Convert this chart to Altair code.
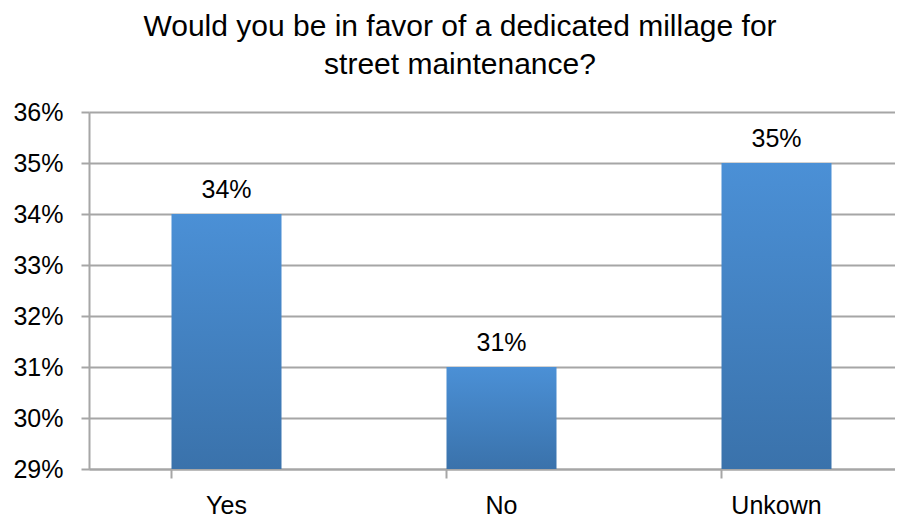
import altair as alt
import pandas as pd

categories = ["Yes", "No", "Unkown"]
values = [0.34, 0.31, 0.35]
labels = ["34%", "31%", "35%"]
base = 0.29
y_ticks = [0.29, 0.30, 0.31, 0.32, 0.33, 0.34, 0.35, 0.36]

df = pd.DataFrame({"cat": categories, "val": values, "lab": labels, "base": [base] * 3})

FONT = "Liberation Sans"
GRAY = "#a6a6a6"

x_scale = alt.Scale(paddingInner=0.6, paddingOuter=0.3, range=[0, 825])

x = alt.X("cat:N", sort=categories, title=None, scale=x_scale,
          axis=alt.Axis(labelAngle=0, labelFontSize=25, labelFont=FONT, labelColor="#000000",
                        labelPadding=15, tickSize=9, tickColor=GRAY, domainColor=GRAY,
                        bandPosition=0, grid=False, tickWidth=2, domainWidth=2))

bars = alt.Chart(df).mark_bar(
    color=alt.Gradient(gradient="linear",
                       stops=[alt.GradientStop(color="#4b90d6", offset=0),
                              alt.GradientStop(color="#3a72ab", offset=1)],
                       x1=0, x2=0, y1=0, y2=1)
).encode(
    x=x,
    y=alt.Y("val:Q", title=None,
            scale=alt.Scale(domain=[0.29, 0.36], zero=False, nice=False),
            axis=alt.Axis(format=".0%", values=y_ticks,
                          labelFontSize=25, labelFont=FONT, labelColor="#000000", labelPadding=18,
                          tickSize=8, tickColor=GRAY, domainColor=GRAY,
                          gridColor=GRAY, gridWidth=2, tickWidth=2, domainWidth=2)),
    y2="base:Q",
)

text = alt.Chart(df).mark_text(fontSize=25, font=FONT, color="#000000", baseline="alphabetic", dy=-16).encode(
    x=alt.X("cat:N", sort=categories, scale=x_scale),
    y="val:Q",
    text="lab:N",
)

chart = (bars + text).properties(
    width=806, height=357,
    title=alt.TitleParams(text=["Would you be in favor of a dedicated millage for", "street maintenance?"],
                          fontSize=30, font=FONT, fontWeight="normal", color="#000000",
                          anchor="middle", dx=-32, offset=20, lineHeight=38),
    autosize=alt.AutoSizeParams(type="none"),
    padding={"left": 81, "top": 104, "right": 0, "bottom": 50},
).configure_view(stroke=None)

chart.save("out.html", embed_options={"renderer": "svg", "actions": False})
